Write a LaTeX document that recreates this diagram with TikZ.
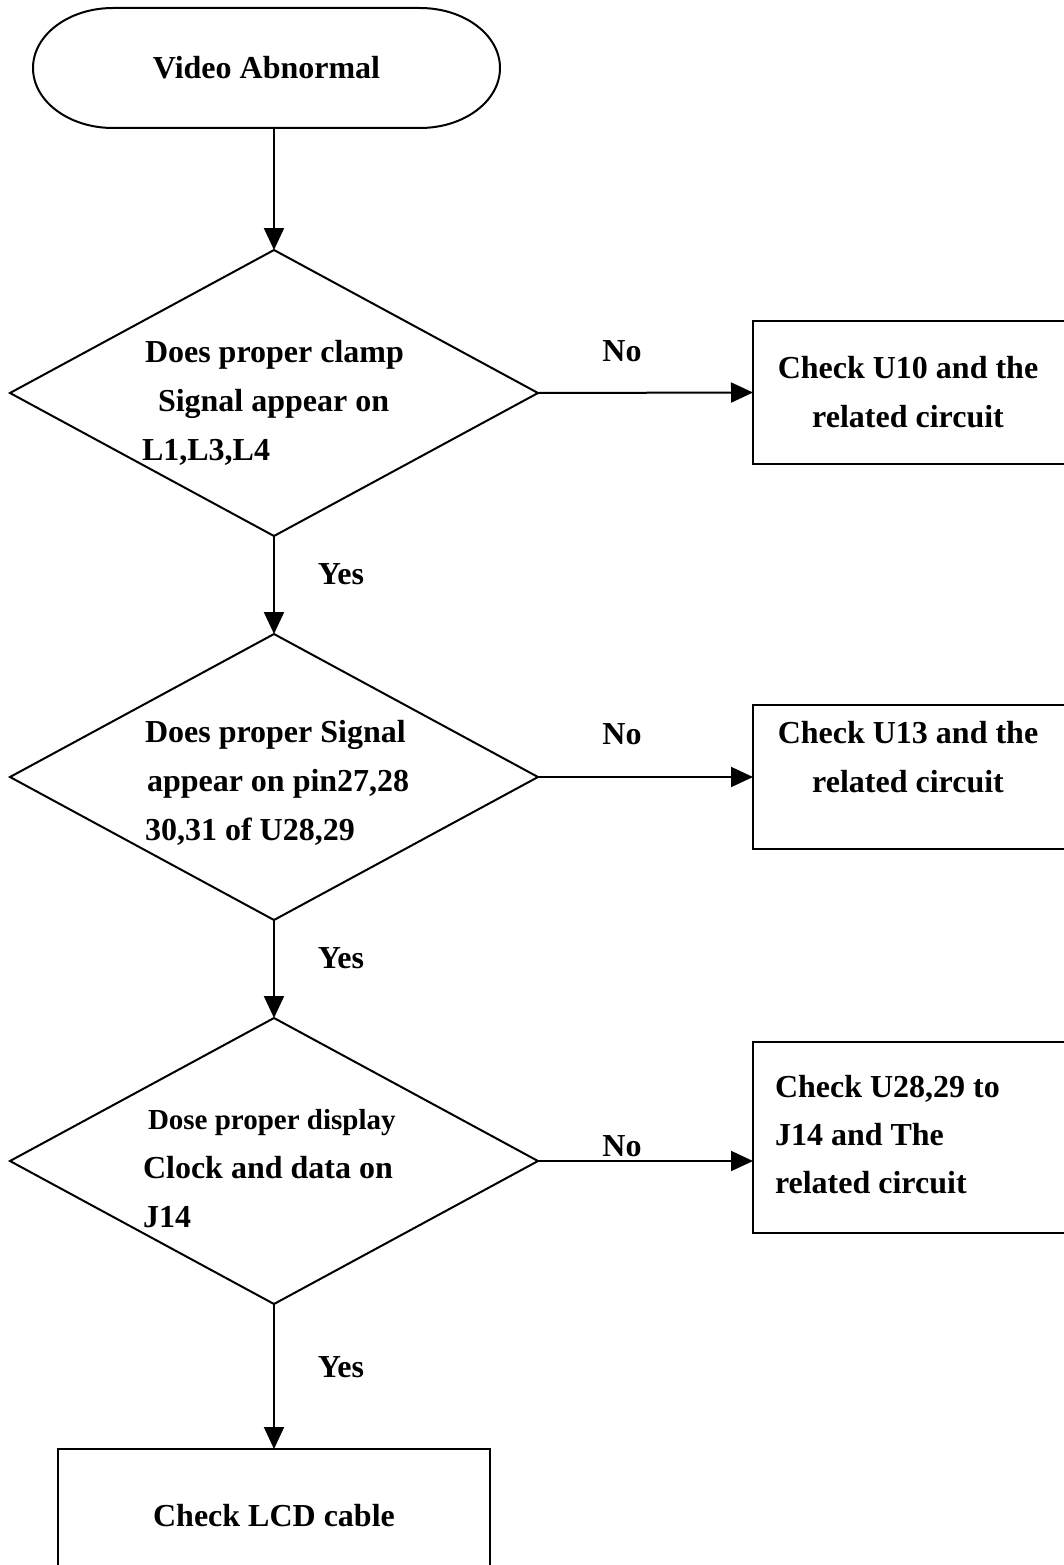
\documentclass[tikz,border=0pt]{standalone}
\usepackage{fontspec}
\setmainfont{Liberation Serif}
\usetikzlibrary{shapes.geometric,arrows.meta}
\begin{document}
\begin{tikzpicture}[x=1pt,y=-1pt,
  every node/.style={font=\fontsize{32pt}{49pt}\selectfont\bfseries, inner sep=0pt, outer sep=0pt},
  decision/.style={diamond, draw, line width=2pt, minimum width=528pt, minimum height=286pt},
  stepbox/.style={rectangle, draw, line width=2pt},
  arr/.style={line width=2pt, -{Triangle[length=22pt,width=20pt]}},
  lbl/.style={anchor=base},
  txt/.style={align=left, anchor=north west},
  ctxt/.style={align=center, anchor=north},
]
\useasboundingbox (0,0) rectangle (1063,1565);

% start terminal with elliptic ends
\node[stepbox, draw=none, minimum width=467pt, minimum height=120pt] (start) at (266.5,68) {Video Abnormal};
\draw[line width=2pt] ([xshift=80pt]start.north west) -- ([xshift=-80pt]start.north east)
  arc[start angle=90, end angle=-90, x radius=80pt, y radius=60pt]
  -- ([xshift=80pt]start.south west)
  arc[start angle=270, end angle=90, x radius=80pt, y radius=60pt] -- cycle;

% decisions
\node[decision] (q1) at (274,393) {};
\node[decision] (q2) at (274,777) {};
\node[decision] (q3) at (274,1161) {};

% action boxes
\node[stepbox, minimum width=313pt, minimum height=143pt] (b1) at (909.5,392.5) {};
\node[stepbox, minimum width=313pt, minimum height=144pt] (b2) at (909.5,777) {};
\node[stepbox, minimum width=313pt, minimum height=191pt] (b3) at (909.5,1137.5) {};
\node[stepbox, minimum width=432pt, minimum height=200pt] (b4) at (274,1549) {};

% texts
\node[txt] (q1t) at (142,340) {\hspace*{3pt}Does proper clamp\\\hspace*{16pt}Signal appear on\\L1,L3,L4};
\node[txt] (q2t) at (145,720) {Does proper Signal\\\hspace*{2pt}appear on pin27,28\\30,31 of U28,29};
\node[txt] (q3t) at (143,1109) {{\fontsize{29pt}{49pt}\selectfont\hspace*{5pt}Dose proper display}\\Clock and data on\\J14};
\node[ctxt] (b1t) at (908,356) {Check U10 and the\\related circuit};
\node[ctxt] (b2t) at (908,721) {Check U13 and the\\related circuit};
\node[txt, font=\fontsize{32pt}{48pt}\selectfont\bfseries] (b3t) at (775,1075) {Check U28,29 to\\J14 and The\\related circuit};
\node[lbl] (b4t) at (274,1526) {Check LCD cable};

% branch labels
\node[lbl] (no1) at (622,361) {No};
\node[lbl] (no2) at (622,744) {No};
\node[lbl] (no3) at (622,1156) {No};
\node[lbl] (yes1) at (341,584) {Yes};
\node[lbl] (yes2) at (341,968) {Yes};
\node[lbl] (yes3) at (341,1377) {Yes};

% connectors
\draw[arr] (start.south -| q1.north) -- (q1.north);
\draw[arr] (q1.south) -- (q2.north);
\draw[arr] (q2.south) -- (q3.north);
\draw[arr] (q3.south) -- (b4.north);
\draw[arr] (q1.east) -- (b1.west);
\draw[arr] (q2.east) -- (b2.west);
\draw[arr] (q3.east) -- (q3.east -| b3.west);
\end{tikzpicture}
\end{document}
